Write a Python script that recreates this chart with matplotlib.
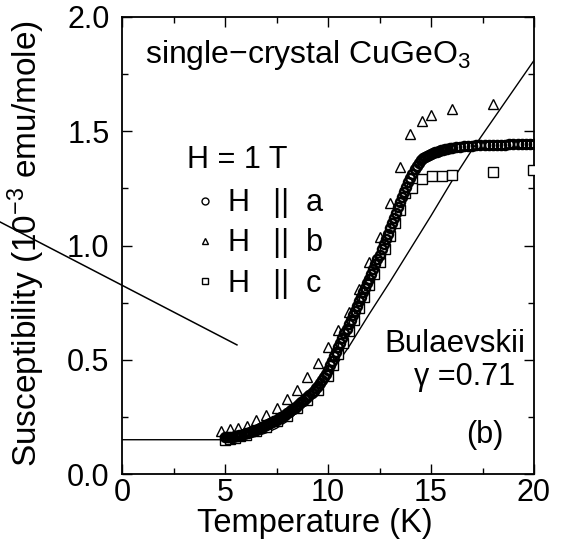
import matplotlib
matplotlib.use("Agg")
import matplotlib.pyplot as plt
from matplotlib.lines import Line2D

plt.rcParams['font.family'] = ['Liberation Sans', 'DejaVu Sans']
plt.rcParams['mathtext.fontset'] = 'custom'
plt.rcParams['mathtext.rm'] = 'Liberation Sans'
plt.rcParams['mathtext.it'] = 'Liberation Sans'
plt.rcParams['mathtext.default'] = 'regular'

# ---- H || a (dense circles) ----
T_a = [5.0, 5.1, 5.2, 5.3, 5.4, 5.5, 5.6, 5.7, 5.8, 5.9,
       6.0, 6.1, 6.2, 6.3, 6.4, 6.5, 6.6, 6.7, 6.8, 6.9,
       7.0, 7.1, 7.2, 7.3, 7.4, 7.5, 7.6, 7.7, 7.8, 7.9,
       8.0, 8.1, 8.2, 8.3, 8.4, 8.5, 8.6, 8.7, 8.8, 8.9,
       9.0, 9.1, 9.2, 9.3, 9.4, 9.5, 9.6, 9.7, 9.8, 9.9,
       10.0, 10.1, 10.2, 10.3, 10.4, 10.5, 10.6, 10.7, 10.8, 10.9,
       11.0, 11.1, 11.2, 11.3, 11.4, 11.5, 11.6, 11.7, 11.8, 11.9,
       12.0, 12.1, 12.2, 12.3, 12.4, 12.5, 12.6, 12.7, 12.8, 12.9,
       13.0, 13.1, 13.2, 13.3, 13.4, 13.5, 13.6, 13.7, 13.8, 13.9,
       14.0, 14.1, 14.2, 14.3, 14.4, 14.5, 14.6, 14.7, 14.8, 14.9,
       15.0, 15.1, 15.2, 15.3, 15.4, 15.5, 15.6, 15.7, 15.8, 15.9,
       16.0, 16.2, 16.4, 16.6, 16.8, 17.0, 17.2, 17.4, 17.6, 17.8,
       18.0, 18.2, 18.4, 18.6, 18.8, 19.0, 19.2, 19.4, 19.6, 19.8,
       20.0]
chi_a = [0.160, 0.161, 0.162, 0.163, 0.164, 0.165, 0.167, 0.170, 0.172, 0.175,
         0.178, 0.181, 0.184, 0.187, 0.190, 0.193, 0.197, 0.201, 0.205, 0.209,
         0.213, 0.218, 0.223, 0.227, 0.232, 0.237, 0.243, 0.248, 0.254, 0.259,
         0.265, 0.271, 0.278, 0.284, 0.291, 0.298, 0.305, 0.313, 0.320, 0.328,
         0.336, 0.345, 0.355, 0.365, 0.375, 0.385, 0.397, 0.410, 0.424, 0.439,
         0.455, 0.475, 0.495, 0.515, 0.535, 0.555, 0.575, 0.595, 0.615, 0.635,
         0.655, 0.675, 0.695, 0.715, 0.735, 0.755, 0.775, 0.795, 0.815, 0.835,
         0.855, 0.876, 0.897, 0.918, 0.939, 0.960, 0.983, 1.006, 1.029, 1.052,
         1.075, 1.098, 1.121, 1.144, 1.167, 1.190, 1.212, 1.234, 1.255, 1.276,
         1.295, 1.315, 1.333, 1.350, 1.363, 1.375, 1.381, 1.387, 1.392, 1.397,
         1.401, 1.405, 1.408, 1.411, 1.414, 1.417, 1.419, 1.421, 1.423, 1.425,
         1.427, 1.430, 1.432, 1.434, 1.436, 1.437, 1.438, 1.439, 1.440, 1.440,
         1.441, 1.441, 1.442, 1.442, 1.443, 1.443, 1.443, 1.444, 1.444, 1.444,
         1.445]

# ---- H || b (triangles) ----
T_b = [4.8, 5.25, 5.65, 6.05, 6.5, 7.0, 7.5, 8.0, 8.5, 9.0, 9.5, 10.0,
       10.5, 11.0, 11.5, 12.0, 12.5, 13.0, 13.5, 14.0, 14.55, 15.0, 16.0, 18.0]
chi_b = [0.19, 0.195, 0.20, 0.21, 0.235, 0.258, 0.288, 0.327, 0.368, 0.423, 0.487, 0.557,
         0.63, 0.71, 0.808, 0.929, 1.039, 1.185, 1.343, 1.488, 1.546, 1.569, 1.597, 1.618]

# ---- H || c (squares) ----
T_c = [5.0, 5.25, 5.5, 5.75, 6.0, 6.5, 7.0, 7.5, 8.0, 8.5, 9.0, 9.5, 10.0,
       10.25, 10.5, 10.75, 11.0, 11.25, 11.5, 11.75, 12.0, 12.25, 12.5, 12.75,
       13.0, 13.25, 13.5, 13.74, 14.1, 14.55, 15.05, 15.53, 16.02, 18.02, 19.95]
chi_c = [0.150, 0.152, 0.158, 0.165, 0.172, 0.188, 0.205, 0.230, 0.255, 0.288, 0.324, 0.368, 0.430,
         0.475, 0.525, 0.575, 0.625, 0.675, 0.725, 0.775, 0.825, 0.876, 0.928, 0.983,
         1.040, 1.098, 1.155, 1.230, 1.252, 1.289, 1.302, 1.304, 1.309, 1.323, 1.330]

# ---- Bulaevskii theory curve (gamma = 0.71) ----
T_bul = [0.0, 5.5, 6.0, 6.5, 7.0, 7.5, 8.0, 8.5, 9.0, 9.5, 10.0, 10.5, 11.0,
         12.0, 13.0, 14.0, 15.0, 16.0, 17.0, 18.0, 19.0, 20.0]
chi_bul = [0.15, 0.15, 0.155, 0.165, 0.18, 0.20, 0.23, 0.27, 0.32, 0.375, 0.43, 0.49, 0.555,
           0.70, 0.84, 0.985, 1.13, 1.28, 1.42, 1.55, 1.68, 1.81]

# ---- stray pointer line (leftover from the figure layout) ----
T_ptr = [-5.92, 5.58]
chi_ptr = [1.103, 0.565]

x_ticks = [0, 5, 10, 15, 20]
y_ticks = [0.0, 0.5, 1.0, 1.5, 2.0]
y_ticklabels = ['0.0', '0.5', '1.0', '1.5', '2.0']

fig = plt.figure(figsize=(5.64, 5.42), dpi=100)
ax = fig.add_axes([122/564, 68/542, 412/564, 457/542])

ax.plot(T_bul, chi_bul, color='black', lw=1.0, zorder=2)
ax.plot(T_ptr, chi_ptr, color='black', lw=1.1, clip_on=False, zorder=2)

ax.plot(T_c, chi_c, linestyle='none', marker='s', ms=6.5, mfc='white', mec='black', mew=1.0, zorder=3)
ax.plot(T_b, chi_b, linestyle='none', marker='^', ms=7, mfc='none', mec='black', mew=1.0, zorder=3)
ax.plot(T_a, chi_a, linestyle='none', marker='o', ms=6.5, mfc='none', mec='black', mew=1.8, zorder=4)

ax.set_xlim(0, 20)
ax.set_ylim(0, 2.0)
ax.set_xticks(x_ticks)
ax.set_xticks([2.5, 7.5, 12.5, 17.5], minor=True)
ax.set_yticks(y_ticks)
ax.set_yticklabels(y_ticklabels)
ax.set_yticks([0.25, 0.75, 1.25, 1.75], minor=True)
ax.tick_params(which='both', direction='in', top=True, right=True, labelsize=22, width=1.0)
ax.tick_params(which='major', length=7)
ax.tick_params(which='minor', length=4)
ax.tick_params(axis='x', pad=3)
ax.tick_params(axis='y', pad=9)
for s in ax.spines.values():
    s.set_linewidth(1.3)

ax.set_xlabel('Temperature (K)', fontsize=23.5)
ax.xaxis.set_label_coords(0.467, -0.074)
ax.set_ylabel('Susceptibility (10$^{-3}$ emu/mole)', fontsize=24)
ax.yaxis.set_label_coords(-0.183, 0.505)

ax.text(1.12, 1.80, 'single\u2212crystal CuGeO$_3$', fontsize=23, ha='left', va='baseline')
ax.text(3.16, 1.339, 'H = 1 T', fontsize=22, ha='left', va='baseline')
ax.text(19.6, 0.534, 'Bulaevskii', fontsize=22.5, ha='right', va='baseline')
ax.text(19.1, 0.39, '\u03b3 =0.71', fontsize=22, ha='right', va='baseline')
ax.text(17.6, 0.135, '(b)', fontsize=22, ha='center', va='baseline')

handles = [Line2D([], [], linestyle='none', marker='o', ms=5, mfc='none', mec='black', mew=1.0),
           Line2D([], [], linestyle='none', marker='^', ms=5, mfc='none', mec='black', mew=1.0),
           Line2D([], [], linestyle='none', marker='s', ms=5, mfc='none', mec='black', mew=1.0)]
labels = ['H  \u2009||  a', 'H  \u2009||  b', 'H  \u2009||  c']
ax.legend(handles, labels, loc='upper left', bbox_to_anchor=(0.18, 0.625), frameon=False,
          fontsize=22, handlelength=0.6, handletextpad=0.45, labelspacing=0.33,
          borderaxespad=0, borderpad=0)

fig.savefig('out.png', dpi=100)
